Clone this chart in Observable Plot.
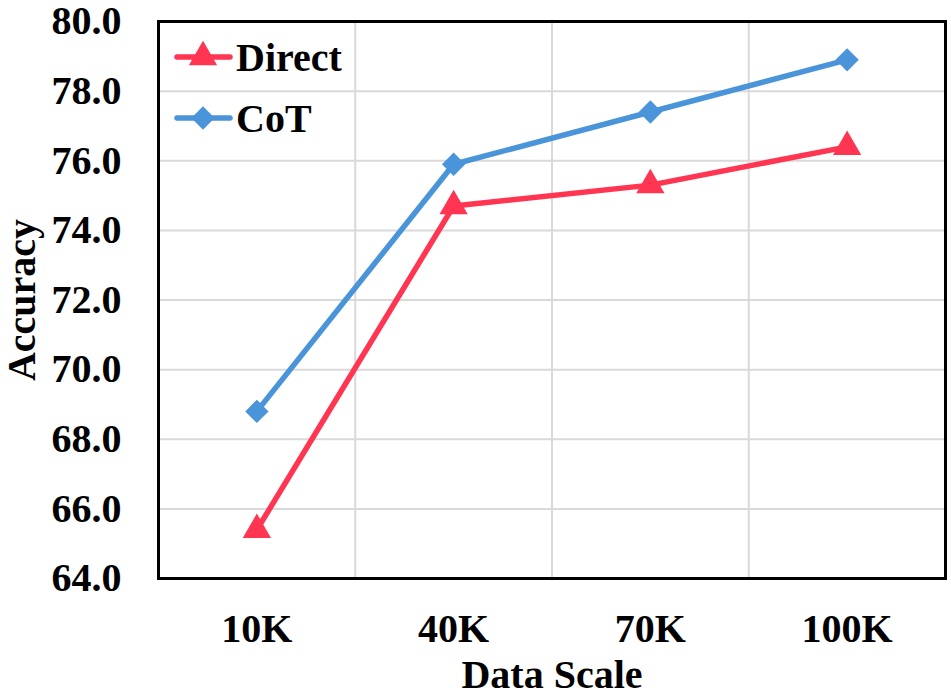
<!DOCTYPE html>
<html><head><meta charset="utf-8">
<script src="https://cdn.jsdelivr.net/npm/d3@7"></script>
<script src="https://cdn.jsdelivr.net/npm/@observablehq/plot@0.6"></script>
<style>
body{margin:0;background:#fff;}
#wrap{position:relative;width:951px;height:698px;}
</style>
</head><body><div id="wrap"></div>
<script>
const categories = ["10K", "40K", "70K", "100K"];
const seriesNames = ["Direct", "CoT"];
const directValues = [65.4, 74.7, 75.3, 76.4];
const cotValues = [68.8, 75.9, 77.4, 78.9];
const yTicks = [64, 66, 68, 70, 72, 74, 76, 78, 80];
const seriesColors = ["#FF3552", "#4A94DA"];
const seriesSymbols = ["triangle", "diamond2"];

const rows = [];
[directValues, cotValues].forEach((vals, s) => {
  vals.forEach((v, i) => rows.push({idx: i, cat: categories[i], value: v, series: seriesNames[s]}));
});
const xIdx = d3.range(categories.length);
const xGrid = d3.range(1, categories.length).map(i => i - 0.5);

const font = {fontFamily: "'Liberation Serif', 'Times New Roman', serif", fontWeight: "bold", fontSize: 40};

const chart = Plot.plot({
  width: 951,
  height: 698,
  marginLeft: 158,
  marginRight: 6,
  marginTop: 21,
  marginBottom: 120,
  style: {fontFamily: font.fontFamily, fontWeight: "bold", fontSize: "40px", color: "#000", background: "#fff", overflow: "visible"},
  x: {type: "linear", domain: [-0.5, categories.length - 0.5]},
  y: {domain: [64, 80]},
  color: {domain: seriesNames, range: seriesColors},
  symbol: {domain: seriesNames, range: seriesSymbols},
  marks: [
    Plot.gridY(yTicks, {stroke: "#d9d9d9", strokeOpacity: 1, strokeWidth: 2}),
    Plot.gridX(xGrid, {stroke: "#d9d9d9", strokeOpacity: 1, strokeWidth: 2}),
    Plot.axisY(yTicks, {tickSize: 0, tickPadding: 37, tickFormat: d => d.toFixed(1), ...font,
      label: "Accuracy", labelAnchor: "center", labelArrow: "none", labelOffset: 152}),
    Plot.axisX(xIdx, {tickSize: 0, tickPadding: 35, tickFormat: i => categories[i], ...font,
      label: "Data Scale", labelAnchor: "center", labelArrow: "none", labelOffset: 109}),
    Plot.line(rows, {x: "idx", y: "value", z: "series", stroke: "series", strokeWidth: 5.5}),
    Plot.dot(rows, {x: "idx", y: "value", symbol: "series", fill: "series", r: 10.5}),
    Plot.frame({stroke: "#000", strokeWidth: 3})
  ]
});
document.getElementById("wrap").appendChild(chart);

// legend inside the plot area (top-left)
const svg = d3.select(chart);
const lg = svg.append("g");
seriesNames.forEach((name, i) => {
  const y = 57 + i * 61;
  const g = lg.append("g").attr("transform", `translate(0,${y})`);
  g.append("line").attr("x1", 177).attr("x2", 230).attr("y1", 0).attr("y2", 0)
    .attr("stroke", seriesColors[i]).attr("stroke-width", 5.5).attr("stroke-linecap", "round");
  g.append("path").attr("transform", "translate(203,0)")
    .attr("d", d3.symbol(i === 0 ? d3.symbolTriangle : d3.symbolDiamond2, Math.PI * 110)())
    .attr("fill", seriesColors[i]);
  g.append("text").attr("x", 236).attr("y", 0).attr("dy", "0.35em")
    .attr("text-anchor", "start")
    .attr("font-family", font.fontFamily).attr("font-weight", "bold").attr("font-size", 40)
    .attr("fill", "#000").text(name);
});
</script>
</body></html>
